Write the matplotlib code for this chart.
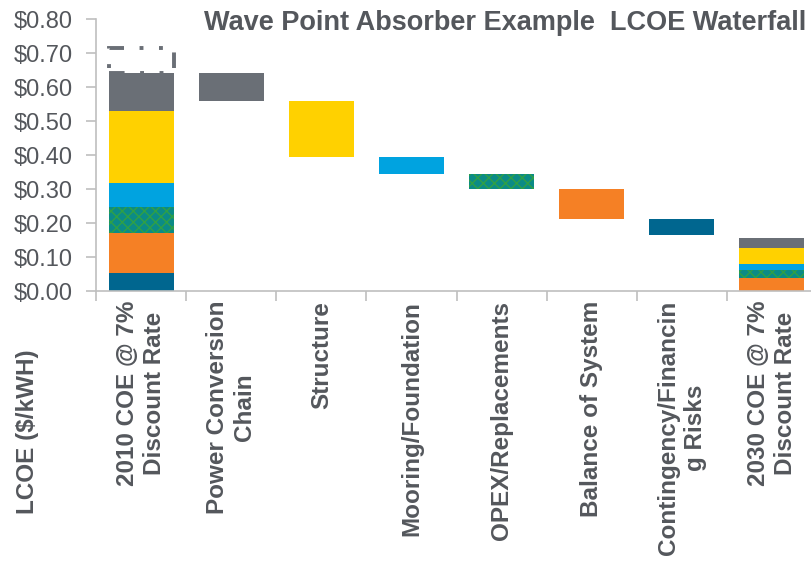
import numpy as np
import matplotlib.pyplot as plt
from matplotlib.patches import Rectangle

plt.rcParams['font.family'] = ['Liberation Sans', 'DejaVu Sans']
plt.rcParams['hatch.linewidth'] = 1.0

############# data ###############################################################

categories = ['2010 COE @ 7%\nDiscount Rate', 'Power Conversion\nChain', 'Structure',
              'Mooring/Foundation', 'OPEX/Replacements', 'Balance of System',
              'Contingency/Financin\ng Risks', '2030 COE @ 7%\nDiscount Rate']

# stack order, bottom to top
components = ['Contingency', 'Balance of System', 'OPEX', 'Mooring', 'Structure', 'Power Conversion']
coe_2010 = [0.052, 0.120, 0.076, 0.071, 0.210, 0.113]
coe_2030 = [0.000, 0.038, 0.024, 0.018, 0.046, 0.031]
coe_2010_upper = 0.716

# reductions in waterfall order (categories 1..6)
reductions = [0.083, 0.166, 0.049, 0.045, 0.087, 0.046]

############# styles #############################################################

navy = '#00668F'
orange = '#F58025'
teal = '#0B8B86'
teal_hatch = '#2FA046'
blue = '#00A3E0'
yellow = '#FFD100'
gray = '#6A6F76'
text_col = '#54575C'

comp_style = {
    'Contingency': dict(color=navy),
    'Balance of System': dict(color=orange),
    'OPEX': dict(facecolor=teal, edgecolor=teal_hatch, hatch='xxx', linewidth=0),
    'Mooring': dict(color=blue),
    'Structure': dict(color=yellow),
    'Power Conversion': dict(color=gray),
}
step_comp = ['Power Conversion', 'Structure', 'Mooring', 'OPEX', 'Balance of System', 'Contingency']

############# plot ###############################################################

fig = plt.figure(figsize=(8.12, 5.63), dpi=100)
ax = fig.add_axes([96 / 812, 1 - 291 / 563, 721 / 812, 272 / 563])
w = 0.72
x = np.arange(len(categories))

# stacked totals
for xi, vals in [(x[0], coe_2010), (x[-1], coe_2030)]:
    bottom = 0
    for comp, v in zip(components, vals):
        ax.bar(xi, v, w, bottom=bottom, **comp_style[comp])
        bottom += v

# floating steps
top = sum(coe_2010)
for i, (comp, r) in enumerate(zip(step_comp, reductions)):
    ax.bar(x[i + 1], r, w, bottom=top - r, **comp_style[comp])
    top -= r

# dashed outline for the upper 2010 estimate
start = sum(coe_2010)
ax.add_patch(Rectangle((x[0] - w / 2, start), w, coe_2010_upper - start, fill=False,
                       edgecolor=gray, lw=2.8, linestyle=(0, (4, 4, 1, 4, 1, 4)), zorder=5))

ax.set_xlim(-0.5, len(categories) - 0.5)
ax.set_ylim(0, 0.8)
ax.set_yticks(np.arange(0, 0.81, 0.1))
ax.set_yticklabels(['$%.2f' % v for v in np.arange(0, 0.81, 0.1)])
ax.set_xticks(x)
ax.set_xticklabels(categories, rotation=90, fontweight='bold', fontsize=17.5,
                   multialignment='center', va='top', ha='center')
ax.set_xticks(np.arange(-0.5, len(categories), 1), minor=True)
ax.tick_params(axis='x', which='major', length=0, pad=7, colors=text_col)
ax.tick_params(axis='x', which='minor', length=7, width=1.2, color='#BFBFBF')
ax.tick_params(axis='y', length=7, width=1.2, color='#BFBFBF', labelcolor=text_col,
               labelsize=17, pad=10)
for s in ['top', 'right']:
    ax.spines[s].set_visible(False)
for s in ['left', 'bottom']:
    ax.spines[s].set_color('#BFBFBF')
    ax.spines[s].set_linewidth(1.2)

fig.text(806 / 812, 1 - 23 / 563, 'Wave Point Absorber Example  LCOE Waterfall',
         ha='right', va='center', fontsize=19.5, fontweight='bold', color=text_col)
fig.text(28 / 812, 1 - 432 / 563, 'LCOE ($/kWH)', rotation=90, ha='center', va='center',
         fontsize=17.5, fontweight='bold', color=text_col)

fig.savefig('out.png', dpi=100)
